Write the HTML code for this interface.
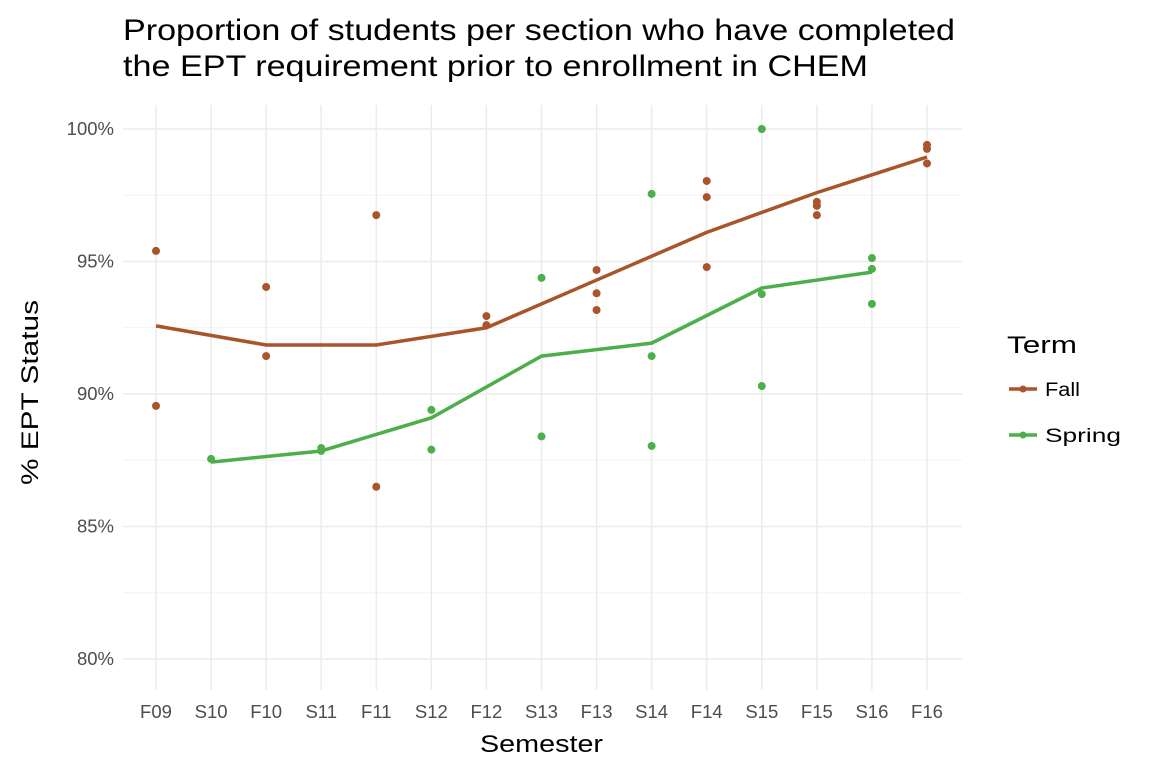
<!DOCTYPE html>
<html><head><meta charset="utf-8"><style>
body{margin:0;background:#fff;font-family:"Liberation Sans",Arial,sans-serif}
</style></head><body>
<svg id="chart" width="1152" height="768" xmlns="http://www.w3.org/2000/svg" font-family="Liberation Sans, Arial, sans-serif">
<text x="123" y="40" font-size="30" textLength="832" lengthAdjust="spacingAndGlyphs" fill="#000">Proportion of students per section who have completed</text>
<text x="123" y="76" font-size="30" textLength="745" lengthAdjust="spacingAndGlyphs" fill="#000">the EPT requirement prior to enrollment in CHEM</text>
<g id="grid"></g><g id="marks"></g><g id="axes"></g>
<text x="480" y="752" font-size="24" textLength="123" lengthAdjust="spacingAndGlyphs">Semester</text>
<text transform="translate(38,485) rotate(-90)" font-size="24" textLength="185" lengthAdjust="spacingAndGlyphs">% EPT Status</text>
<g>
<text x="1007" y="353" font-size="24" textLength="70" lengthAdjust="spacingAndGlyphs">Term</text>
<g><line x1="1009" y1="389" x2="1037" y2="389" stroke="#a9542a" stroke-width="3.5"/><circle cx="1023" cy="389" r="3.5" fill="#a9542a"/><text x="1045" y="396" font-size="19" textLength="35" lengthAdjust="spacingAndGlyphs">Fall</text></g>
<g><line x1="1009" y1="435" x2="1037" y2="435" stroke="#4daf4a" stroke-width="3.5"/><circle cx="1023" cy="435" r="3.5" fill="#4daf4a"/><text x="1045" y="442" font-size="19" textLength="76" lengthAdjust="spacingAndGlyphs">Spring</text></g>
</g>
</svg>
<script>
const categories=["F09","S10","F10","S11","F11","S12","F12","S13","F13","S14","F14","S15","F15","S16","F16"];
const yTicks=[80,85,90,95,100];
const yTickLabels=["80%","85%","90%","95%","100%"];
const pointCats=["F09","F09","S10","F10","F10","S11","S11","F11","F11","S12","S12","F12","F12","S13","S13","F13","F13","F13","S14","S14","S14","F14","F14","F14","S15","S15","S15","F15","F15","F15","S16","S16","S16","F16","F16","F16"];
const pointValues=[95.4,89.55,87.55,94.04,91.43,87.96,87.85,96.75,86.5,89.4,87.9,92.94,92.6,94.38,88.4,94.68,93.8,93.17,97.55,91.43,88.04,98.04,97.43,94.79,100,93.77,90.3,97.25,97.1,96.75,95.13,94.72,93.4,99.4,99.25,98.7];
const fallCats=["F09","F10","F11","F12","F13","F14","F15","F16"];
const fallLine=[92.57,91.85,91.85,92.5,94.3,96.1,97.6,98.94];
const springCats=["S10","S11","S12","S13","S14","S15","S16"];
const springLine=[87.43,87.85,89.1,91.43,91.92,94.0,94.6];
const NS="http://www.w3.org/2000/svg";
const X=c=>156+categories.indexOf(c)*(927-156)/14;
const Y=v=>659-(v-80)*(659-129)/20;
function mk(t,a,p){const e=document.createElementNS(NS,t);for(const k in a)e.setAttribute(k,a[k]);p.appendChild(e);return e;}
const grid=document.getElementById('grid'),marks=document.getElementById('marks'),axes=document.getElementById('axes');
for(let v=82.5;v<100;v+=5){const l=mk('line',{x1:123,x2:962,y1:Y(v),y2:Y(v),stroke:'#f2f2f2','stroke-width':1},grid);

}
yTicks.forEach((v,i)=>{const l=mk('line',{x1:123,x2:962,y1:Y(v),y2:Y(v),stroke:'#ebebeb','stroke-width':1.5},grid);


const t=mk('text',{x:114,y:Y(v)+6,'font-size':18.5,fill:'#4d4d4d','text-anchor':'end'},axes);t.textContent=yTickLabels[i];

});
categories.forEach(c=>{const l=mk('line',{x1:X(c),x2:X(c),y1:105,y2:690,stroke:'#ebebeb','stroke-width':1.5},grid);


const t=mk('text',{x:X(c),y:718,'font-size':18.5,fill:'#4d4d4d','text-anchor':'middle'},axes);t.textContent=c;

});
pointCats.forEach((c,i)=>{const col=c[0]==='F'?'#a9542a':'#4daf4a';const p=mk('circle',{cx:X(c),cy:Y(pointValues[i]),r:4,fill:col},marks);

});
function line(cats,vals,col,name){const p=mk('polyline',{points:cats.map((c,i)=>X(c)+','+Y(vals[i])).join(' '),fill:'none',stroke:col,'stroke-width':3.5},marks);

}
line(fallCats,fallLine,'#a9542a','fall-trend-line');
line(springCats,springLine,'#4daf4a','spring-trend-line');
</script>
</body></html>
